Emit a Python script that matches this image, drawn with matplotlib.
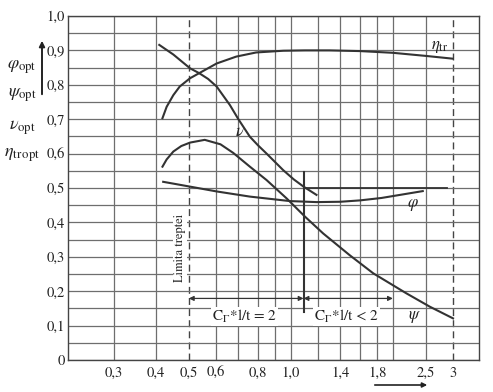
#Optimum characteristics of an axial stage vs. log x axis (scanned diagram recreation)
from matplotlib import pyplot as plt
from matplotlib import patches as mp
import numpy as np

plt.rcParams['font.family'] = ['STIXGeneral', 'DejaVu Serif']
plt.rcParams['mathtext.fontset'] = 'stix'

#curves
ETA_X = [0.418, 0.43, 0.45, 0.47, 0.504, 0.539, 0.604, 0.69, 0.79, 0.95, 1.1, 1.3, 1.6, 2.0, 2.5, 3.0]
ETA_Y = [0.703, 0.736, 0.770, 0.795, 0.819, 0.835, 0.862, 0.882, 0.894, 0.899, 0.900, 0.900, 0.898, 0.893, 0.884, 0.876]

NU_X = [0.409, 0.45, 0.504, 0.536, 0.57, 0.604, 0.661, 0.70, 0.757, 0.80, 0.848, 0.949, 1.02, 1.09, 1.19]
NU_Y = [0.916, 0.888, 0.848, 0.834, 0.817, 0.795, 0.741, 0.700, 0.649, 0.624, 0.600, 0.552, 0.525, 0.504, 0.480]

PSI_X = [0.418, 0.43, 0.45, 0.475, 0.504, 0.557, 0.62, 0.676, 0.757, 0.848, 0.971, 1.10, 1.245, 1.49, 1.75, 2.19, 2.57, 3.01]
PSI_Y = [0.562, 0.583, 0.606, 0.622, 0.632, 0.640, 0.627, 0.602, 0.562, 0.523, 0.470, 0.417, 0.368, 0.305, 0.252, 0.194, 0.155, 0.121]

PHI_X = [0.42, 0.504, 0.604, 0.757, 0.993, 1.19, 1.40, 1.60, 1.85, 2.10, 2.45]
PHI_Y = [0.518, 0.504, 0.490, 0.475, 0.462, 0.459, 0.460, 0.464, 0.471, 0.480, 0.491]

#marker lines
LIMIT_X = [0.5, 3.0]
SPLIT_X = 1.09
SPLIT_Y = [0.14, 0.547]
HLINE_Y = 0.5
HLINE_X = [1.09, 2.88]
ARROW_Y = 0.179
ARROW_X = [0.5, 1.09, 2.0]

XTICKS = [0.3, 0.4, 0.5, 0.6, 0.8, 1.0, 1.4, 1.8, 2.5, 3]
XLABELS = ['0,3', '0,4', '0,5', '0,6', '0,8', '1,0', '1,4', '1,8', '2,5', '3']
XGRID = [0.3, 0.4, 0.6, 0.7, 0.8, 0.9, 1.0, 1.2, 1.4, 1.6, 1.8, 2.0, 2.5]
YTICKS = np.arange(0, 1.01, 0.1)
YLABELS = ['0', '0,1', '0,2', '0,3', '0,4', '0,5', '0,6', '0,7', '0,8', '0,9', '1,0']

W, H = 493, 392
fig = plt.figure(figsize=(W / 100, H / 100), dpi=100)
ax = fig.add_axes([68 / W, 32 / H, 411 / W, 344 / H])

ax.set_xscale('log')
ax.set_xlim(0.22, 3.59)
ax.set_ylim(0, 1.0)

gc = '#6e6e6e'
lc = '#333333'

for gx in XGRID:
    ax.axvline(gx, color=gc, lw=0.9, zorder=1)
for lx in LIMIT_X:
    ax.axvline(lx, color='#444444', lw=1.0, ls=(0, (5, 3)), zorder=1)

ax.set_yticks(YTICKS)
ax.set_yticks(np.arange(0.05, 1.0, 0.1), minor=True)
ax.yaxis.grid(True, which='both', color=gc, lw=0.9)
ax.set_yticklabels(YLABELS)
ax.set_xticks(XTICKS)
ax.set_xticklabels(XLABELS)
ax.xaxis.set_minor_locator(plt.NullLocator())
ax.tick_params(axis='both', which='both', length=0, labelsize=10.5, colors='#222222')
ax.tick_params(axis='x', pad=5)
ax.tick_params(axis='y', pad=2)
for s in ax.spines.values():
    s.set_color('#444444')
    s.set_linewidth(1.0)

ax.plot(ETA_X, ETA_Y, color=lc, lw=1.5, zorder=3)
ax.plot(NU_X, NU_Y, color=lc, lw=1.5, zorder=3)
ax.plot(PSI_X, PSI_Y, color=lc, lw=1.5, zorder=3)
ax.plot(PHI_X, PHI_Y, color=lc, lw=1.5, zorder=3)

ax.plot([SPLIT_X, SPLIT_X], SPLIT_Y, color=lc, lw=1.5, zorder=3)
ax.plot(HLINE_X, [HLINE_Y, HLINE_Y], color=lc, lw=1.3, zorder=3)

for a, b in zip(ARROW_X[:-1], ARROW_X[1:]):
    ax.annotate('', xy=(a, ARROW_Y), xytext=(b, ARROW_Y),
                arrowprops=dict(arrowstyle='<|-|>', color=lc, lw=0.9,
                                mutation_scale=7, shrinkA=0, shrinkB=0), zorder=3)

ax.text(2.75, 0.91, r'$\eta_{\rm tr}$', fontsize=12, ha='center', va='center', color='#222222')
ax.text(0.705, 0.662, r'$\nu$', fontsize=12, ha='center', va='center', color='#222222')
ax.text(2.29, 0.452, r'$\varphi$', fontsize=12, ha='center', va='center', color='#222222')
ax.text(2.32, 0.125, r'$\psi$', fontsize=12, ha='center', va='center', color='#222222')
ax.text(0.471, 0.326, 'Limita treptei', rotation=90, fontsize=9, ha='center', va='center',
        color='#222222', bbox=dict(fc='white', ec='none', pad=0.5))
ax.text(0.585, 0.127, r'C$_\Gamma$*l/t = 2', fontsize=11, ha='left', va='center',
        color='#222222', bbox=dict(fc='white', ec='none', pad=0.5))
ax.text(1.17, 0.127, r'C$_\Gamma$*l/t < 2', fontsize=11, ha='left', va='center',
        color='#222222', bbox=dict(fc='white', ec='none', pad=0.5))

#stacked y axis label on the left
for txt, py in [(r'$\varphi_{\rm opt}$', 67), (r'$\psi_{\rm opt}$', 95),
                (r'$\nu_{\rm opt}$', 128), (r'$\eta_{\rm tr\,opt}$', 155)]:
    fig.text(22 / W, 1 - py / H, txt, fontsize=13, ha='center', va='center', color='#222222')
fig.patches.append(mp.FancyArrowPatch(
    (42 / W, 1 - 97 / H), (42 / W, 1 - 38 / H), transform=fig.transFigure,
    arrowstyle='-|>', mutation_scale=8, color='#222222', lw=1.4))
fig.patches.append(mp.FancyArrowPatch(
    (372 / W, 1 - 385 / H), (430 / W, 1 - 385 / H), transform=fig.transFigure,
    arrowstyle='-|>', mutation_scale=7, color='#222222', lw=1.2))

plt.savefig('out.png', dpi=100)
